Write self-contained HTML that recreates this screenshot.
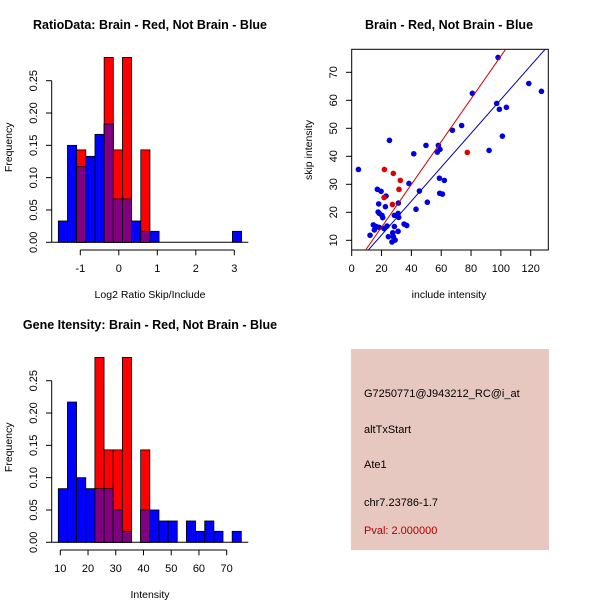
<!DOCTYPE html>
<html><head><meta charset="utf-8"><style>
body{margin:0;background:#fff}
svg{display:block;font-family:"Liberation Sans",sans-serif}
</style></head><body>
<svg id="s" width="600" height="600" xmlns="http://www.w3.org/2000/svg"></svg>
<script>
// Ratio histogram data
const ratioBinStart = -1.571, ratioBinWidth = 0.238;
const ratioBlue = [0.033,0.15,0.117,0.133,0.167,0.183,0.067,0.067,0.033,0.017,0.017,0,0,0,0,0,0,0,0,0.017];
const ratioRed  = [0,0,0.143,0,0,0.286,0.143,0.286,0,0.143,0,0,0,0,0,0,0,0,0,0];
const ratioXTicks = [-1,0,1,2,3];
// Intensity histogram data
const intBinStart = 9.28, intBinWidth = 3.30;
const intBlue = [0.083,0.217,0.1,0.083,0.083,0.083,0.05,0.017,0,0.05,0.05,0.033,0.033,0,0.033,0.017,0.033,0.017,0,0.017];
const intRed  = [0,0,0,0,0.286,0.143,0.143,0.286,0,0.143,0,0,0,0,0,0,0,0,0,0];
const intXTicks = [10,20,30,40,50,60,70];
const freqTicks = ["0.00","0.05","0.10","0.15","0.20","0.25"];
// Scatter data
const blueX = [4.5,25.3,41.6,49.8,58.1,59.2,57.4,98.1,80.9,97.2,99.0,103.7,118.7,127.2,101.0,92.1,73.7,67.5,58.8,62.1,59.0,60.8,38.4,45.4,50.7,43.1,17.2,19.7,23.0,18.1,22.6,18.5,20.3,20.8,17.7,28.6,31.1,31.5,31.3,23.7,28.6,12.3,15.2,16.5,18.5,21.7,24.6,27.5,27.9,29.1,27.0,31.1,35.1,36.9,14.5];
const blueY = [35.3,45.7,40.9,43.9,43.9,42.5,41.5,75.3,62.5,58.9,56.8,57.5,66.0,63.2,47.2,42.1,51.0,49.3,32.2,31.4,26.8,26.5,30.3,27.6,23.6,21.1,28.2,27.5,25.8,23.0,22.0,19.6,18.9,18.1,20.1,18.9,19.6,18.2,23.3,15.1,14.9,11.8,13.7,14.9,14.6,14.2,11.3,12.7,11.3,10.1,9.4,13.2,15.8,15.3,15.5];
const redX = [21.9,27.9,32.6,31.7,21.7,27.3,77.5];
const redY = [35.3,33.9,31.4,28.2,25.3,22.8,41.4];
const fitRed = [-0.61,0.764];
const fitBlue = [-0.21,0.605];
const scX = [0,20,40,60,80,100,120];
const scY = [10,20,30,40,50,60,70];

const svg=document.getElementById('s');const NS='http://www.w3.org/2000/svg';
function el(t,a,p){const e=document.createElementNS(NS,t);for(const k in a)e.setAttribute(k,a[k]);(p||svg).appendChild(e);return e;}
function txt(x,y,s,a,p){const e=el('text',Object.assign({x:x,y:y,'text-anchor':'middle','font-size':11,fill:'#000'},a||{}),p);e.textContent=s;return e;}

function hist(g,y0,xs,binStart,bw,blue,red,ticks,title,xlab,tickY){
  const ysc=v=>y0-v*646.4;
  const grp=el('g',{});
  
  
  const t=txt(150,tickY-243,title,{'font-weight':'bold','font-size':12.5},grp);
  
  
  el('line',{x1:51.7,x2:248.3,y1:y0,y2:y0,stroke:'#000'},grp);
  for(let i=0;i<blue.length;i++){
    const a=xs(binStart+i*bw),b=xs(binStart+(i+1)*bw);
    if(blue[i]>0){const r=el('rect',{x:a,y:ysc(blue[i]),width:b-a,height:blue[i]*646.4,fill:'#0000ff',stroke:'#000','stroke-width':0.8},grp);
      
      }
    if(red[i]>0){const r=el('rect',{x:a,y:ysc(red[i]),width:b-a,height:red[i]*646.4,fill:'#ff0000',stroke:'#000','stroke-width':0.8},grp);
      
      }
    const m=Math.min(blue[i],red[i]);
    if(m>0){const r=el('rect',{x:a,y:ysc(m),width:b-a,height:m*646.4,fill:'#800080',stroke:'#000','stroke-width':0.8},grp);
      
      }
  }
  el('line',{x1:xs(ticks[0]),x2:xs(ticks[ticks.length-1]),y1:y0+7.7,y2:y0+7.7,stroke:'#000'},grp);
  ticks.forEach(v=>{el('line',{x1:xs(v),x2:xs(v),y1:y0+7.7,y2:y0+13,stroke:'#000'},grp);txt(xs(v),tickY,String(v),{},grp);});
  el('line',{x1:51.7,x2:51.7,y1:y0,y2:ysc(0.25),stroke:'#000'},grp);
  freqTicks.forEach(s=>{const v=+s;el('line',{x1:51.7,x2:46,y1:ysc(v),y2:ysc(v),stroke:'#000'},grp);
    txt(0,0,s,{transform:`translate(37,${ysc(v)}) rotate(-90)`},grp);});
  txt(0,0,'Frequency',{transform:`translate(12,${y0-95}) rotate(-90)`,'font-size':10.5},grp);
  txt(150,tickY+26,xlab,{'font-size':10.5},grp);
}
hist('ratio-histogram',242.3,v=>118.8+v*38.5,ratioBinStart,ratioBinWidth,ratioBlue,ratioRed,ratioXTicks,'RatioData: Brain - Red, Not Brain - Blue','Log2 Ratio Skip/Include',272);
hist('intensity-histogram',542.3,v=>60.3+(v-10)*2.773,intBinStart,intBinWidth,intBlue,intRed,intXTicks,'Gene Itensity: Brain - Red, Not Brain - Blue','Intensity',572);

// scatter
const sx=v=>351.7+v*1.4917, sy=v=>240.3-(v-10)*2.8;
const sg=el('g',{});


txt(449,29,'Brain - Red, Not Brain - Blue',{'font-weight':'bold','font-size':12.5},sg);
el('rect',{x:351.7,y:49.3,width:196.6,height:200.7,fill:'none',stroke:'#000'},sg);
const cp=el('clipPath',{id:'cp'},sg);el('rect',{x:351.7,y:49.3,width:196.6,height:200.7},cp);
scX.forEach(v=>{el('line',{x1:sx(v),x2:sx(v),y1:250,y2:256,stroke:'#000'},sg);txt(sx(v),272,String(v),{},sg);});
scY.forEach(v=>{el('line',{x1:351.7,x2:346,y1:sy(v),y2:sy(v),stroke:'#000'},sg);txt(0,0,String(v),{transform:`translate(337,${sy(v)}) rotate(-90)`},sg);});
txt(449,298,'include intensity',{'font-size':10.5},sg);
txt(0,0,'skip intensity',{transform:'translate(312,150) rotate(-90)','font-size':10.5},sg);
blueX.forEach((v,i)=>{const c=el('circle',{cx:sx(v),cy:sy(blueY[i]),r:2.8,fill:'#0000e0'},sg);
  
  });
redX.forEach((v,i)=>{const c=el('circle',{cx:sx(v),cy:sy(redY[i]),r:2.8,fill:'#e00000'},sg);
  
  });
[[fitRed,'#cc0000','fit-line-brain'],[fitBlue,'#0000aa','fit-line-not-brain']].forEach(([f,c,n])=>{
  const l=el('line',{x1:sx(0),y1:sy(f[0]),x2:sx(140),y2:sy(f[0]+f[1]*140),stroke:c,'stroke-width':1,'clip-path':'url(#cp)'},sg);
  
  });
</script>
<div style="position:absolute;left:351px;top:349px;width:198px;height:201px;background:#e6c8c0;font-family:'Liberation Sans',sans-serif;font-size:11px">
<div style="position:absolute;left:13px;top:39px">G7250771@J943212_RC@i_at</div>
<div style="position:absolute;left:13px;top:75px">altTxStart</div>
<div style="position:absolute;left:13px;top:110px">Ate1</div>
<div style="position:absolute;left:13px;top:148px">chr7.23786-1.7</div>
<div style="position:absolute;left:13px;top:176px;color:#b00000">Pval: 2.000000</div>
</div>
</body></html>
